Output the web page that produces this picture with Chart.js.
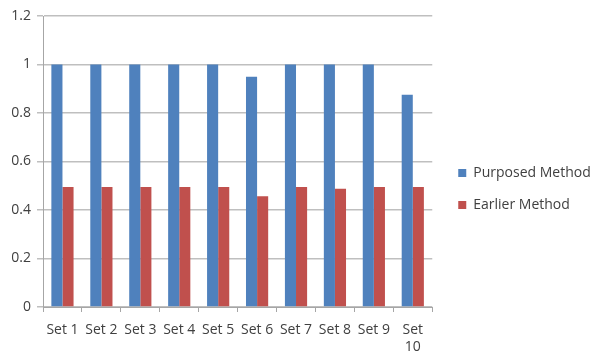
<!DOCTYPE html>
<html>
<head>
<meta charset="utf-8">
<script src="https://cdn.jsdelivr.net/npm/chart.js@4"></script>
<style>
  html, body { margin: 0; padding: 0; background: #fff; }
  #wrap { width: 599px; height: 356px; position: relative; }
</style>
</head>
<body>
<div id="wrap"><canvas id="chart"></canvas></div>
<script>
const categories = ["Set 1", "Set 2", "Set 3", "Set 4", "Set 5", "Set 6", "Set 7", "Set 8", "Set 9", ["Set", "10"]];
const purposedMethod = [1, 1, 1, 1, 1, 0.95, 1, 1, 1, 0.875];
const earlierMethod = [0.495, 0.495, 0.495, 0.495, 0.495, 0.457, 0.495, 0.488, 0.495, 0.495];
const yTicks = { min: 0, max: 1.2, step: 0.2 };

const textColor = "#404040";
const font = { family: "'Open Sans', sans-serif", size: 14 };

// Widen the legend box (extra gap to the plot), then shift its items right and down.
const legendSpacing = {
  id: "legendSpacing",
  beforeUpdate(chart) {
    const lg = chart.legend;
    if (lg && !lg._widened) {
      const fit = lg.fit.bind(lg);
      lg.fit = function () { fit(); this.width += 11; };
      lg._widened = true;
    }
  },
  afterLayout(chart) {
    if (chart.legend) {
      chart.legend.left += 8;
      chart.legend.top += 6;
    }
  }
};

new Chart(document.getElementById("chart"), {
  type: "bar",
  data: {
    labels: categories,
    datasets: [
      { label: "Purposed Method", data: purposedMethod, backgroundColor: "#4F81BD",
        categoryPercentage: 0.57, barPercentage: 1.0 },
      { label: "Earlier Method", data: earlierMethod, backgroundColor: "#C0504D",
        categoryPercentage: 0.57, barPercentage: 1.0 }
    ]
  },
  plugins: [legendSpacing],
  options: {
    responsive: true,
    maintainAspectRatio: false,
    animation: false,
    layout: { padding: { top: 16, right: 8, left: 0, bottom: 0 } },
    plugins: {
      legend: {
        position: "right",
        align: "center",
        labels: {
          boxWidth: 8, boxHeight: 8, padding: 18,
          color: textColor, font: font
        }
      },
      tooltip: { enabled: false }
    },
    scales: {
      x: {
        grid: { drawOnChartArea: false, drawTicks: true, tickLength: 5, color: "#a6a6a6" },
        border: { color: "#a6a6a6" },
        ticks: { color: textColor, font: font, maxRotation: 0, autoSkip: false, padding: 10 },
        afterFit: scale => { scale.height = 49; }
      },
      y: {
        min: yTicks.min, max: yTicks.max,
        grid: { color: "#bfbfbf", tickLength: 6, lineWidth: 1.5 },
        border: { color: "#a6a6a6" },
        ticks: {
          stepSize: yTicks.step, color: textColor, font: font, padding: 6,
          callback: v => String(+v.toFixed(1))
        },
        afterFit: scale => { scale.width = 43; }
      }
    }
  }
});
</script>
</body>
</html>
